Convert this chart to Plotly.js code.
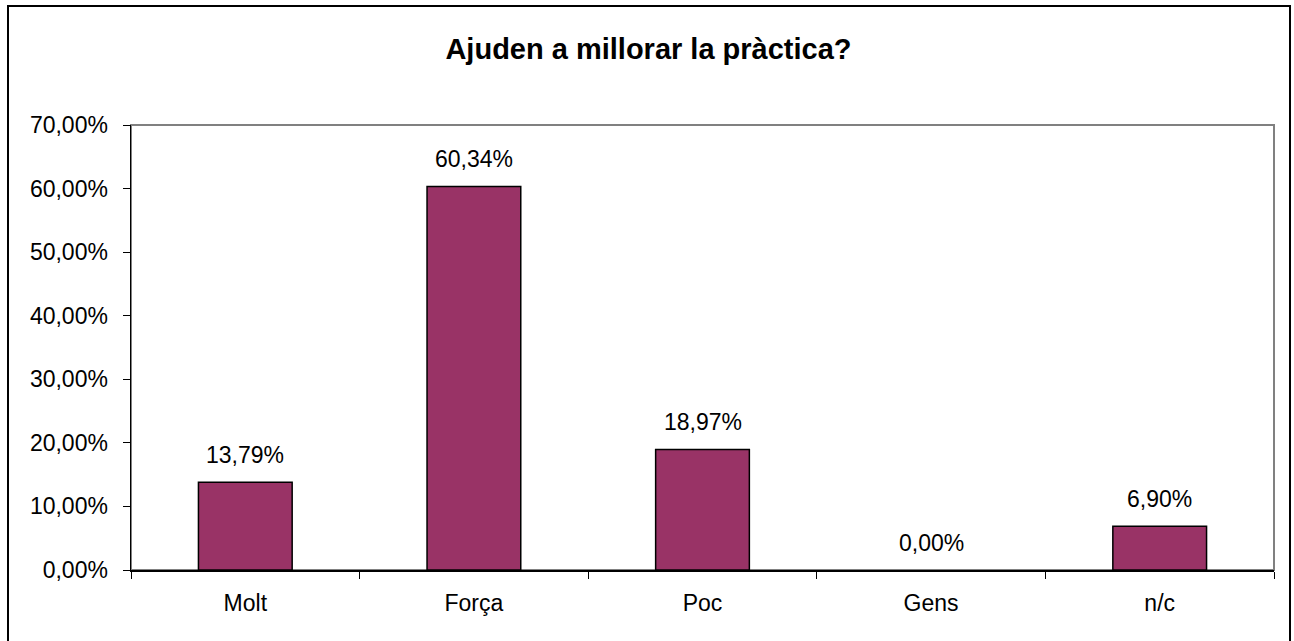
<!DOCTYPE html>
<html>
<head>
<meta charset="utf-8">
<script src="https://cdn.plot.ly/plotly-3.0.1.min.js"></script>
<style>
  html, body { margin: 0; padding: 0; background: #fff; }
  #wrap { position: relative; width: 1294px; height: 641px; overflow: hidden; }
  #chart { position: absolute; left: 0; top: 0; width: 1294px; height: 641px; }
  #frame { position: absolute; left: 7px; top: 5px; width: 1280px; height: 660px; border: 2px solid #000; pointer-events: none; }
</style>
</head>
<body>
<div id="wrap">
  <div id="chart"></div>
  <div id="frame"></div>
</div>
<script>
const categories = ['Molt', 'Força', 'Poc', 'Gens', 'n/c'];
const values = [0.1379, 0.6034, 0.1897, 0.0, 0.0690];
const tickVals = [0, 0.1, 0.2, 0.3, 0.4, 0.5, 0.6, 0.7];

function fmt(v) { return (v * 100).toFixed(2).replace('.', ',') + '%'; }

const fontFam = 'Liberation Sans, Arial, sans-serif';

const trace = {
  type: 'bar',
  x: categories,
  y: values,
  marker: { color: '#993366', line: { color: '#000000', width: values.map(v => v > 0 ? 1.5 : 0) } },
  hoverinfo: 'skip'
};

const annotations = categories.map((c, i) => ({
  x: c, y: values[i], xref: 'x', yref: 'y',
  text: fmt(values[i]), showarrow: false,
  yanchor: 'bottom', yshift: 12,
  font: { family: fontFam, size: 23, color: '#000' }
}));

const layout = {
  width: 1294, height: 641,
  margin: { l: 131, r: 20, t: 125, b: 71 },
  paper_bgcolor: 'rgba(0,0,0,0)',
  plot_bgcolor: '#fff',
  separators: ',.',
  bargap: 0.59,
  showlegend: false,
  title: {
    text: '<b>Ajuden a millorar la pràctica?</b>',
    font: { family: fontFam, size: 29, color: '#000' },
    x: 648.5 / 1294, xref: 'container', xanchor: 'center',
    y: 1 - 49 / 641, yref: 'container', yanchor: 'middle'
  },
  xaxis: {
    type: 'category',
    tickson: 'boundaries',
    ticks: 'outside', ticklen: 7, tickcolor: '#000', tickwidth: 1,
    showline: true, linecolor: '#000', linewidth: 1.5,
    showgrid: false, zeroline: false,
    tickfont: { family: fontFam, size: 23, color: '#000' },
    ticklabelstandoff: 12,
    fixedrange: true
  },
  yaxis: {
    range: [0, 0.7],
    tickvals: tickVals,
    tickformat: '.2%',
    ticks: 'outside', ticklen: 7, tickcolor: '#000', tickwidth: 1,
    showline: true, linecolor: '#000', linewidth: 1.5,
    showgrid: false, zeroline: false,
    tickfont: { family: fontFam, size: 23, color: '#000' },
    ticklabelstandoff: 10,
    fixedrange: true
  },
  shapes: [{
    type: 'rect', xref: 'paper', yref: 'paper', x0: 0, x1: 1, y0: 0, y1: 1,
    line: { color: '#808080', width: 2 }, layer: 'below'
  }],
  annotations: annotations
};

Plotly.newPlot('chart', [trace], layout, { staticPlot: true, displayModeBar: false });
</script>
</body>
</html>
